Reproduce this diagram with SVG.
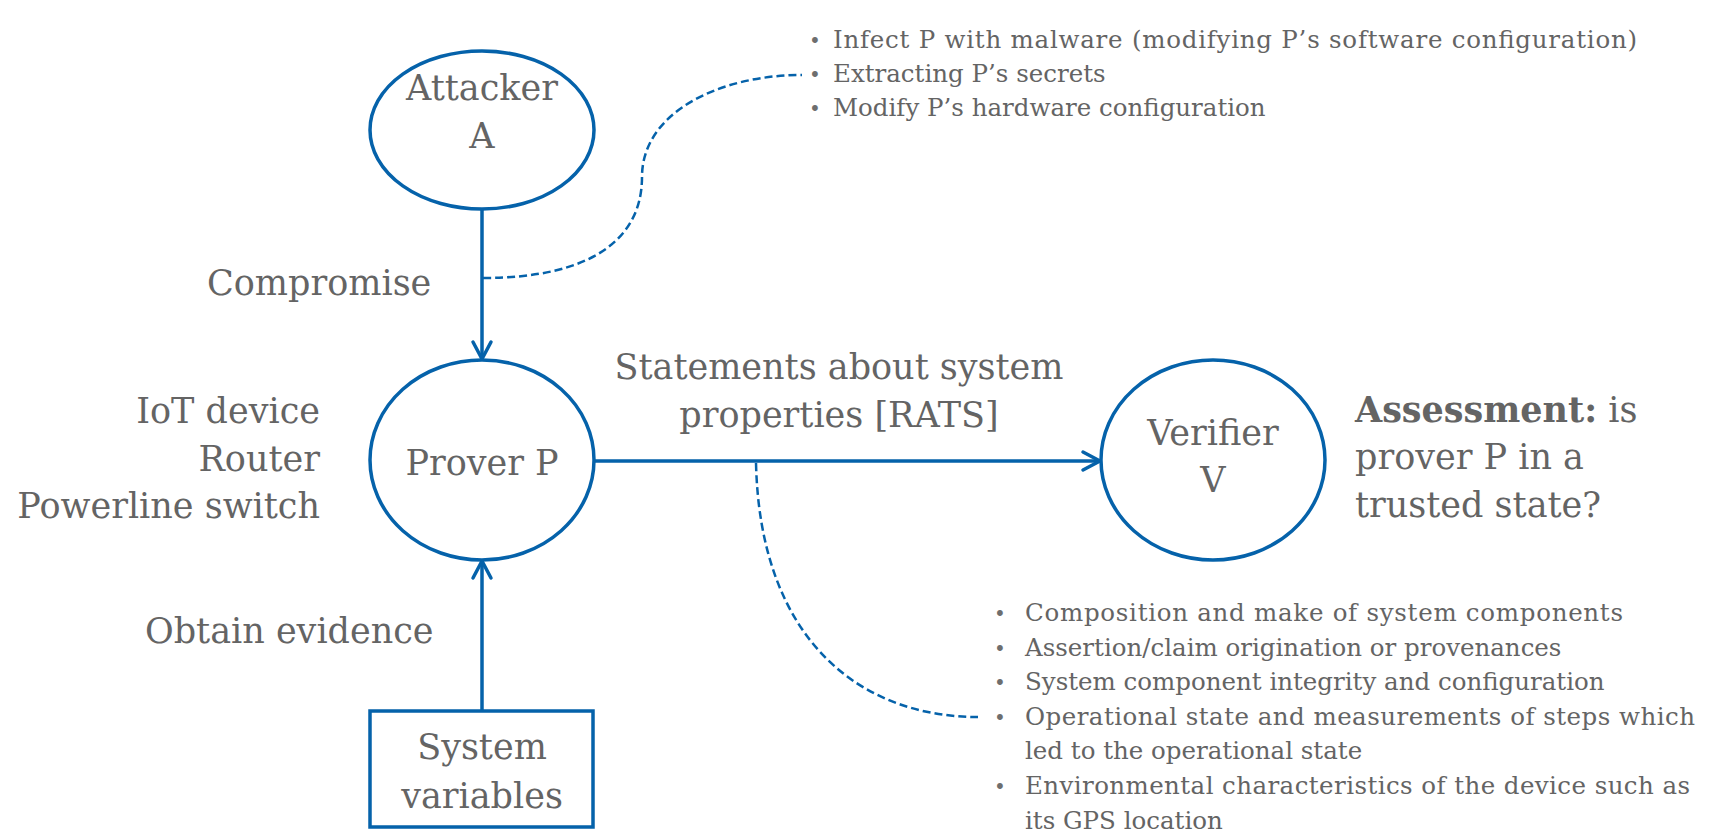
<svg xmlns="http://www.w3.org/2000/svg" width="1710" height="833" viewBox="0 0 1710 833">
  <defs>
    <style>
      .node { fill: #ffffff; stroke: #0562AA; stroke-width: 3.5; }
      .edge { fill: none; stroke: #0562AA; stroke-width: 3.5; stroke-linecap: round; }
      .dash { fill: none; stroke: #0562AA; stroke-width: 2.5; stroke-dasharray: 8 4; }
      .lbl { font-family: "DejaVu Serif", "Liberation Serif", serif; font-size: 35px; fill: #646464; }
      .small { font-family: "DejaVu Serif", "Liberation Serif", serif; font-size: 24.5px; fill: #646464; }
      .dot { font-family: "DejaVu Serif", serif; font-size: 20px; fill: #6e6e6e; text-anchor: middle; }
      .mid { text-anchor: middle; }
      .end { text-anchor: end; }
    </style>
    <marker id="chev" markerUnits="userSpaceOnUse" markerWidth="26" markerHeight="26" viewBox="0 0 26 26" refX="21" refY="13" orient="auto">
      <path d="M4,4 L21,13 L4,22" fill="none" stroke="#0562AA" stroke-width="3.5" stroke-linecap="round" stroke-linejoin="round"/>
    </marker>
  </defs>

  <rect width="1710" height="833" fill="#ffffff"/>

  <!-- connectors -->
  <g id="connectors">
    <line class="edge" x1="482" y1="209" x2="482" y2="359" marker-end="url(#chev)"/>
    <line class="edge" x1="593" y1="461" x2="1100" y2="461" marker-end="url(#chev)"/>
    <line class="edge" x1="482" y1="711" x2="482" y2="561" marker-end="url(#chev)"/>
    <path class="dash" d="M483,278 C590,278 642,240 642,177 C642,112 720,75 802,75"/>
    <path class="dash" d="M756,463 C760,640 860,717 978,717"/>
  </g>

  <!-- attacker -->
  <g id="attacker">
    <ellipse class="node" cx="482" cy="130" rx="112" ry="79"/>
    <text class="lbl mid" x="482" y="100">Attacker</text>
    <text class="lbl mid" x="482" y="148">A</text>
  </g>

  <!-- prover -->
  <g id="prover">
    <ellipse class="node" cx="482" cy="460" rx="112" ry="100"/>
    <text class="lbl mid" x="482" y="475">Prover P</text>
  </g>

  <!-- verifier -->
  <g id="verifier">
    <ellipse class="node" cx="1213" cy="460" rx="112" ry="100"/>
    <text class="lbl mid" x="1213" y="445">Verifier</text>
    <text class="lbl mid" x="1213" y="492">V</text>
  </g>

  <!-- system variables -->
  <g id="system-variables">
    <rect class="node" x="370" y="711" width="223" height="116"/>
    <text class="lbl mid" x="482" y="759">System</text>
    <text class="lbl mid" x="482" y="808">variables</text>
  </g>

  <!-- edge labels -->
  <g id="labels">
    <text class="lbl" x="207" y="295">Compromise</text>
    <text class="lbl" x="145" y="643">Obtain evidence</text>
    <text class="lbl mid" x="839" y="379">Statements about system</text>
    <text class="lbl mid" x="839" y="427">properties [RATS]</text>
  </g>

  <!-- device types -->
  <g id="device-types">
    <text class="lbl end" x="320" y="423">IoT device</text>
    <text class="lbl end" x="320" y="471">Router</text>
    <text class="lbl end" x="320" y="518">Powerline switch</text>
  </g>

  <!-- assessment -->
  <g id="assessment">
    <text class="lbl" x="1355" y="422"><tspan font-weight="bold">Assessment:</tspan> is</text>
    <text class="lbl" x="1355" y="469">prover P in a</text>
    <text class="lbl" x="1355" y="517">trusted state?</text>
  </g>

  <!-- attack list -->
  <g id="attacks">
    <text class="dot" x="815" y="48">•</text>
    <text class="small" x="833" y="48" textLength="804">Infect P with malware (modifying P’s software configuration)</text>
    <text class="dot" x="815" y="82">•</text>
    <text class="small" x="833" y="82">Extracting P’s secrets</text>
    <text class="dot" x="815" y="116">•</text>
    <text class="small" x="833" y="116">Modify P’s hardware configuration</text>
  </g>

  <!-- evidence list -->
  <g id="evidence">
    <text class="dot" x="1000" y="621">•</text>
    <text class="small" x="1025" y="621" textLength="598">Composition and make of system components</text>
    <text class="dot" x="1000" y="655.6">•</text>
    <text class="small" x="1025" y="655.6">Assertion/claim origination or provenances</text>
    <text class="dot" x="1000" y="690.2">•</text>
    <text class="small" x="1025" y="690.2">System component integrity and configuration</text>
    <text class="dot" x="1000" y="724.8">•</text>
    <text class="small" x="1025" y="724.8" textLength="670">Operational state and measurements of steps which</text>
    <text class="small" x="1025" y="759.4">led to the operational state</text>
    <text class="dot" x="1000" y="794">•</text>
    <text class="small" x="1025" y="794" textLength="665">Environmental characteristics of the device such as</text>
    <text class="small" x="1025" y="828.6">its GPS location</text>
  </g>
</svg>
